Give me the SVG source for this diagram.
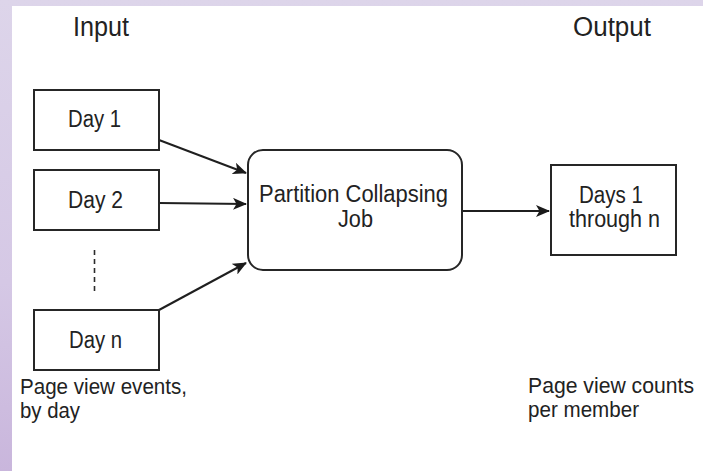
<svg xmlns="http://www.w3.org/2000/svg" width="703" height="471" viewBox="0 0 703 471">
  <defs>
    <linearGradient id="frame" x1="0" y1="0" x2="0" y2="1">
      <stop offset="0" stop-color="#ddd5ea"/>
      <stop offset="0.6" stop-color="#d5c8e5"/>
      <stop offset="1" stop-color="#c9b6dc"/>
    </linearGradient>
    <marker id="arrow" viewBox="0 0 14 12" refX="13" refY="6" markerWidth="14" markerHeight="12" markerUnits="userSpaceOnUse" orient="auto">
      <path d="M0,0 L14,6 L0,12 L3.5,6 Z" fill="#1a1a1a"/>
    </marker>
    <style>
      .box { fill: #ffffff; stroke: #262626; stroke-width: 2; }
      .lbl { font-family: "Liberation Sans", Arial, sans-serif; font-size: 23px; fill: #222222; }
      .ttl { font-family: "Liberation Sans", Arial, sans-serif; font-size: 27px; fill: #222222; }
      .note { font-family: "Liberation Sans", Arial, sans-serif; font-size: 22px; fill: #222222; }
      .edge { fill: none; stroke: #1f1f1f; stroke-width: 2; marker-end: url(#arrow); }
    </style>
  </defs>

  <!-- page frame -->
  <rect x="0" y="0" width="703" height="471" fill="url(#frame)"/>
  <rect x="12" y="6" width="691" height="465" fill="#ffffff"/>

  <!-- column titles -->
  <text class="ttl" x="73" y="36" textLength="56" lengthAdjust="spacingAndGlyphs">Input</text>
  <text class="ttl" x="573" y="36" textLength="78" lengthAdjust="spacingAndGlyphs">Output</text>

  <!-- connectors -->
  <g id="connectors">
    <line class="edge" x1="159" y1="140" x2="246" y2="173"/>
    <line class="edge" x1="159" y1="203" x2="246" y2="204"/>
    <line class="edge" x1="159" y1="310" x2="246" y2="263"/>
    <line class="edge" x1="462" y1="211" x2="549" y2="211"/>
    <line x1="94.5" y1="250" x2="94.5" y2="292" stroke="#2b2b2b" stroke-width="1.6" stroke-dasharray="5,4"/>
  </g>

  <g id="day1">
    <rect class="box" x="34" y="90" width="125" height="60"/>
    <text class="lbl" x="68" y="127" textLength="53" lengthAdjust="spacingAndGlyphs">Day 1</text>
  </g>

  <g id="day2">
    <rect class="box" x="34" y="170" width="125" height="60"/>
    <text class="lbl" x="68" y="208" textLength="55" lengthAdjust="spacingAndGlyphs">Day 2</text>
  </g>

  <g id="dayn">
    <rect class="box" x="34" y="310" width="125" height="60"/>
    <text class="lbl" x="69" y="348" textLength="53" lengthAdjust="spacingAndGlyphs">Day n</text>
  </g>

  <g id="job">
    <rect class="box" x="248" y="150" width="214" height="120" rx="15" ry="15"/>
    <text class="lbl" x="259" y="202" textLength="189" lengthAdjust="spacingAndGlyphs">Partition Collapsing</text>
    <text class="lbl" x="338" y="227" textLength="35" lengthAdjust="spacingAndGlyphs">Job</text>
  </g>

  <g id="result">
    <rect class="box" x="551" y="165" width="125" height="90"/>
    <text class="lbl" x="579" y="203" textLength="64" lengthAdjust="spacingAndGlyphs">Days 1</text>
    <text class="lbl" x="569" y="227" textLength="91" lengthAdjust="spacingAndGlyphs">through n</text>
  </g>

  <!-- captions -->
  <g id="input-caption">
    <text class="note" x="20" y="394" textLength="167" lengthAdjust="spacingAndGlyphs">Page view events,</text>
    <text class="note" x="20" y="418" textLength="60" lengthAdjust="spacingAndGlyphs">by day</text>
  </g>
  <g id="output-caption">
    <text class="note" x="528" y="393" textLength="166" lengthAdjust="spacingAndGlyphs">Page view counts</text>
    <text class="note" x="528" y="417" textLength="111" lengthAdjust="spacingAndGlyphs">per member</text>
  </g>
</svg>
